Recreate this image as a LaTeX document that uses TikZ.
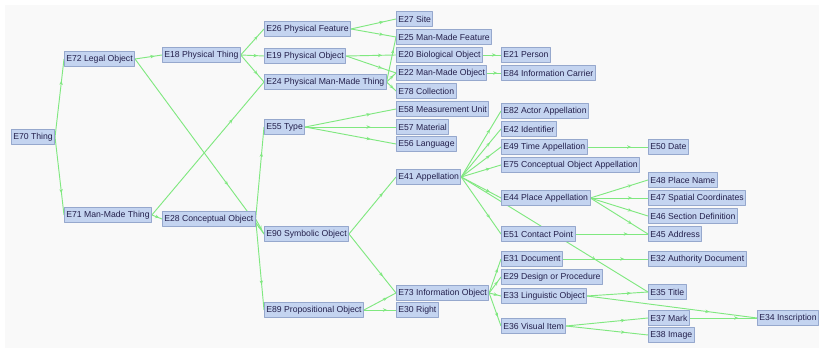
\documentclass[tikz,border=0pt]{standalone}
\usepackage{fontspec}
\setmainfont{Liberation Sans}
\usetikzlibrary{arrows.meta,decorations.markings}
\definecolor{paper}{RGB}{249,249,249}
\definecolor{boxfill}{RGB}{196,212,240}
\definecolor{boxline}{RGB}{150,168,205}
\definecolor{boxtext}{RGB}{36,32,76}
\definecolor{linkgreen}{RGB}{128,232,128}
\pgfdeclarelayer{links}
\pgfsetlayers{links,main}
\begin{document}
\begin{tikzpicture}[x=0.75pt, y=-0.75pt, line join=round,
    cls/.style={draw=boxline, fill=boxfill, text=boxtext, anchor=west,
      font=\fontsize{6.5}{7}\selectfont, inner xsep=1.4pt, inner ysep=0pt,
      minimum height=10.8pt, line width=0.6pt},
    link/.style={draw=linkgreen, line width=0.7pt, postaction={decorate},
      decoration={markings, mark=at position 0.72 with
        {\arrow[linkgreen]{Stealth[length=3pt,width=2.6pt]}}}}]
  % --- page ------------------------------------------------------
  \useasboundingbox (0,0) rectangle (819,348);
  \begin{pgfonlayer}{links}
    \fill[paper] (5,5) rectangle (819,348);
  \end{pgfonlayer}
  % --- classes ---------------------------------------------------
  \node[cls] (thing)      at (11,137)  {E70 Thing};
  \node[cls] (legal)      at (64,59)   {E72 Legal Object};
  \node[cls] (manmade)    at (64,215)  {E71 Man-Made Thing};
  \node[cls] (physthing)  at (162,55)  {E18 Physical Thing};
  \node[cls] (concept)    at (162,219) {E28 Conceptual Object};
  \node[cls] (feature)    at (264,29)  {E26 Physical Feature};
  \node[cls] (physobj)    at (264,56)  {E19 Physical Object};
  \node[cls] (pmmthing)   at (264,82)  {E24 Physical Man-Made Thing};
  \node[cls] (type)       at (264,127) {E55 Type};
  \node[cls] (symbolic)   at (264,234) {E90 Symbolic Object};
  \node[cls] (propos)     at (264,310) {E89 Propositional Object};
  \node[cls] (site)       at (396,19)  {E27 Site};
  \node[cls] (mmfeature)  at (396,37)  {E25 Man-Made Feature};
  \node[cls] (bio)        at (396,55)  {E20 Biological Object};
  \node[cls] (mmobj)      at (396,73)  {E22 Man-Made Object};
  \node[cls] (collection) at (396,91)  {E78 Collection};
  \node[cls] (unit)       at (396,109) {E58 Measurement Unit};
  \node[cls] (material)   at (396,127) {E57 Material};
  \node[cls] (language)   at (396,144) {E56 Language};
  \node[cls] (appell)     at (396,177) {E41 Appellation};
  \node[cls] (infoobj)    at (396,293) {E73 Information Object};
  \node[cls] (right)      at (396,310) {E30 Right};
  \node[cls] (person)     at (501,55)  {E21 Person};
  \node[cls] (carrier)    at (501,73)  {E84 Information Carrier};
  \node[cls] (actorapp)   at (501,111) {E82 Actor Appellation};
  \node[cls] (ident)      at (501,129) {E42 Identifier};
  \node[cls] (timeapp)    at (501,147) {E49 Time Appellation};
  \node[cls] (coapp)      at (501,165) {E75 Conceptual Object Appellation};
  \node[cls] (placeapp)   at (501,198) {E44 Place Appellation};
  \node[cls] (contact)    at (501,234) {E51 Contact Point};
  \node[cls] (document)   at (501,259) {E31 Document};
  \node[cls] (design)     at (501,277) {E29 Design or Procedure};
  \node[cls] (linguistic) at (501,296) {E33 Linguistic Object};
  \node[cls] (visual)     at (501,326) {E36 Visual Item};
  \node[cls] (date)       at (648,147) {E50 Date};
  \node[cls] (placename)  at (648,180) {E48 Place Name};
  \node[cls] (spatial)    at (648,198) {E47 Spatial Coordinates};
  \node[cls] (section)    at (648,216) {E46 Section Definition};
  \node[cls] (address)    at (648,234) {E45 Address};
  \node[cls] (authority)  at (648,259) {E32 Authority Document};
  \node[cls] (title)      at (648,292) {E35 Title};
  \node[cls] (mark)       at (648,318) {E37 Mark};
  \node[cls] (image)      at (648,335) {E38 Image};
  \node[cls] (inscript)   at (757,318) {E34 Inscription};
  % --- subclass links --------------------------------------------
  \begin{pgfonlayer}{links}
  \foreach \a/\b in {thing/legal, thing/manmade, legal/physthing, legal/symbolic,
      manmade/pmmthing, manmade/concept, physthing/feature, physthing/physobj,
      physthing/pmmthing, concept/type, concept/symbolic, concept/propos,
      feature/site, feature/mmfeature, physobj/bio, physobj/mmobj,
      pmmthing/mmfeature, pmmthing/mmobj, pmmthing/collection,
      type/unit, type/material, type/language, symbolic/appell, symbolic/infoobj,
      propos/infoobj, propos/right, bio/person, mmobj/carrier,
      appell/actorapp, appell/ident, appell/timeapp, appell/coapp,
      appell/placeapp, appell/contact, appell/title,
      infoobj/document, infoobj/design, infoobj/linguistic, infoobj/visual,
      timeapp/date, placeapp/placename, placeapp/spatial, placeapp/section,
      placeapp/address, contact/address, document/authority,
      linguistic/title, linguistic/inscript, visual/mark, visual/image,
      mark/inscript}
    \draw[link] (\a.east) -- (\b.west);
  \end{pgfonlayer}
\end{tikzpicture}
\end{document}
